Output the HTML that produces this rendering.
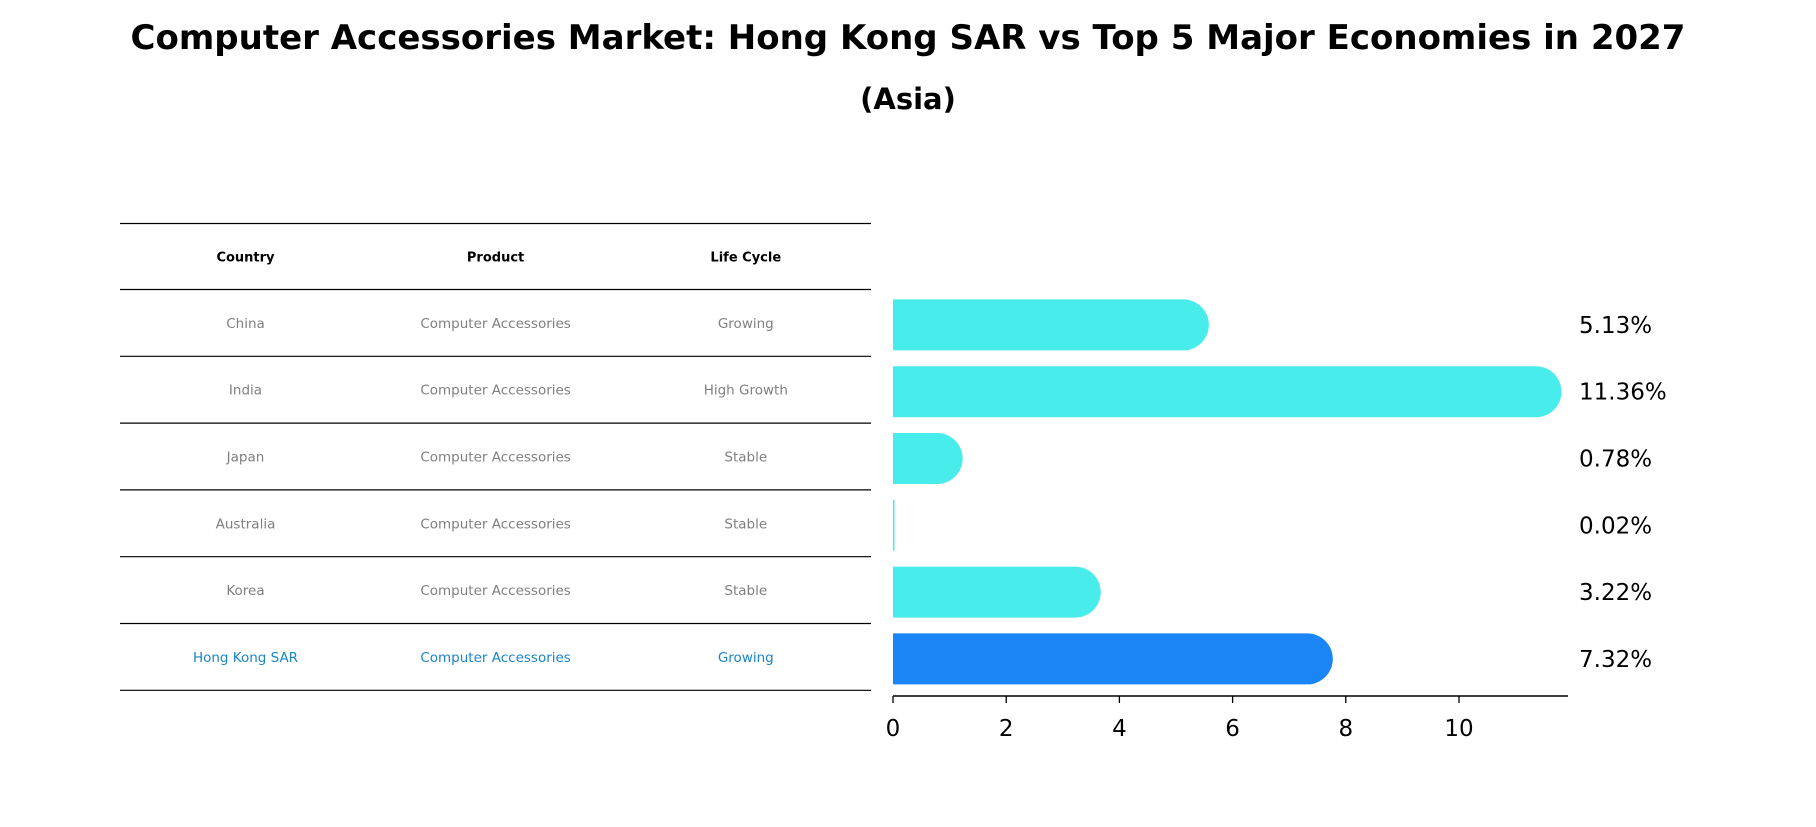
<!DOCTYPE html>
<html><head><meta charset="utf-8"><style>
body{margin:0;background:#fff;width:1816px;height:823px;overflow:hidden;font-family:"DejaVu Sans","Liberation Sans",sans-serif}
</style></head><body>
<svg id="chart" width="1816" height="823" xmlns="http://www.w3.org/2000/svg" font-family="DejaVu Sans, Liberation Sans, sans-serif">
<text x="908" y="49" text-anchor="middle" font-size="34" font-weight="bold">Computer Accessories Market: Hong Kong SAR vs Top 5 Major Economies in 2027</text>
<text x="908" y="109" text-anchor="middle" font-size="29" font-weight="bold">(Asia)</text>
<g id="table"></g>
<g id="bars"></g>
</svg>
<script>
const countries=["China","India","Japan","Australia","Korea","Hong Kong SAR"];
const products=["Computer Accessories","Computer Accessories","Computer Accessories","Computer Accessories","Computer Accessories","Computer Accessories"];
const lifeCycles=["Growing","High Growth","Stable","Stable","Stable","Growing"];
const values=[5.13,11.36,0.78,0.02,3.22,7.32];
const ticks=[0,2,4,6,8,10];
const NS="http://www.w3.org/2000/svg";
function mk(tag,attrs,parent){const e=document.createElementNS(NS,tag);for(const k in attrs)e.setAttribute(k,attrs[k]);parent.appendChild(e);return e;}
const tbl=document.getElementById('table');
const lineYs=[223.5,289.5];
const rowH=66.8;
const colX=[245.5,495.6,745.8];
function rowTop(i){return 289.5+i*rowH;}
// lines
for(let i=0;i<=countries.length+1;i++){
  const y=i===0?223.5:rowTop(i-1);
  const l=mk('line',{x1:120,x2:871,y1:y,y2:y,stroke:'#000','stroke-width':1.2},tbl);
  
  
}
const heads=["Country","Product","Life Cycle"];
heads.forEach((h,j)=>{
  const t=mk('text',{x:colX[j],y:(223.5+289.5)/2+5,'text-anchor':'middle','font-size':13,'font-weight':'bold'},tbl);
  t.textContent=h;
  
  
});
countries.forEach((c,i)=>{
  const hk=i===countries.length-1;
  const y=rowTop(i)+rowH/2+5;
  [c,products[i],lifeCycles[i]].forEach((v,j)=>{
    const t=mk('text',{x:colX[j],y:y,'text-anchor':'middle','font-size':13.5,fill:hk?'#1a85c8':'#808080'},tbl);
    t.textContent=v;
    
    
  });
});
// bars
const g=document.getElementById('bars');
const x0=893, unit=56.6;
function xs(v){return x0+v*unit;}
const barH=51;
values.forEach((v,i)=>{
  const hk=i===values.length-1;
  const cy=rowTop(i)+rowH/2+2;
  const x1=xs(v), r=barH/2;
  const color=hk?'#1a85f5':'#48ecea';
  const p=mk('path',{d:`M${x0},${cy-r} L${x1},${cy-r} A${r},${r} 0 0 1 ${x1},${cy+r} L${x0},${cy+r} Z`,fill:color},g);
  if(v<0.1){p.setAttribute('d',`M${x0},${cy-r} L${x0+1.5},${cy-r} L${x0+1.5},${cy+r} L${x0},${cy+r} Z`);}
  
  
  const t=mk('text',{x:1579,y:cy+8,'font-size':23},g);
  t.textContent=v.toFixed(2)+'%';
  
  
});
const ax=mk('line',{x1:x0,x2:1568,y1:696,y2:696,stroke:'#000','stroke-width':1.6},g);


ticks.forEach(v=>{
  const l=mk('line',{x1:xs(v),x2:xs(v),y1:696,y2:703,stroke:'#000','stroke-width':1.3},g);
  
  
  const t=mk('text',{x:xs(v),y:736,'text-anchor':'middle','font-size':23},g);
  t.textContent=v;
  
  
});
</script>
</body></html>
